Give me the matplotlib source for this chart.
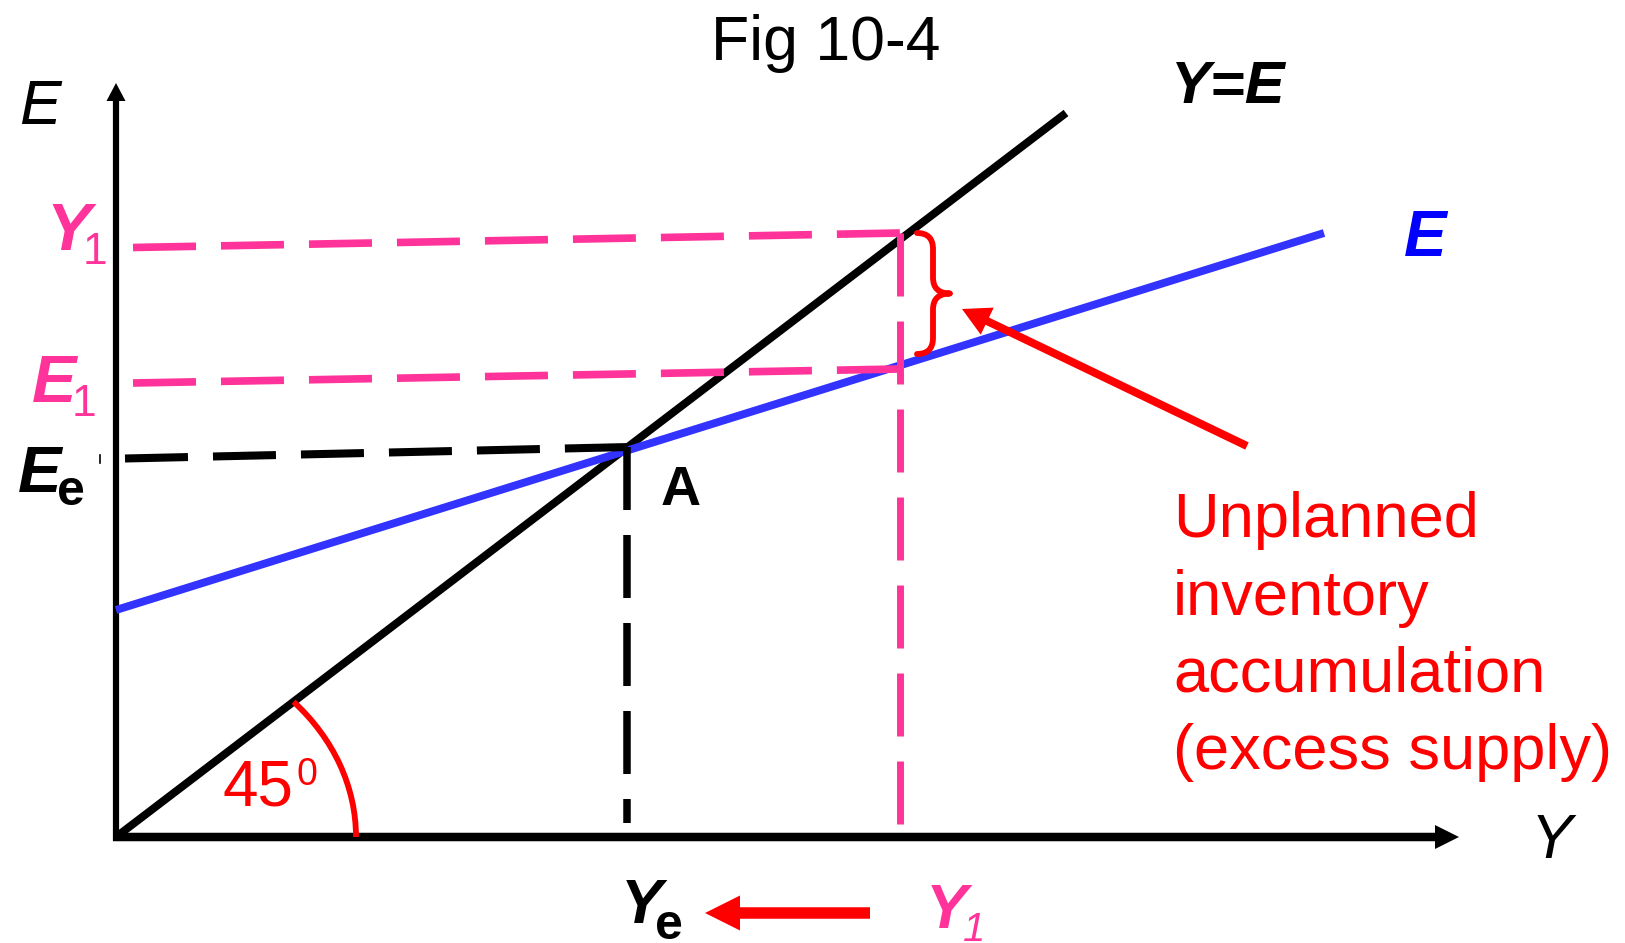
import matplotlib
matplotlib.use("Agg")
import matplotlib.pyplot as plt
from matplotlib.patches import FancyArrow, Arc, PathPatch
from matplotlib.path import Path

# values (1 unit = 100 px of the original slide)
y_axis_top = 7.54
x_axis_end = 13.43

# 45 degree line Y=E and planned expenditure line E
ye_line_x = [0.0, 9.50]
ye_line_y = [0.0, 7.24]
e_line_x = [0.0, 12.08]
e_line_y = [2.27, 6.04]

# equilibrium and the Y1 case
Y_e = 5.11
E_e = 3.90
Y_1 = 7.84
y1_level = [5.895, 6.04]
e1_level = [4.54, 4.68]
ee_level = [3.785, E_e]
pink_dash_x0 = 0.17
black_dash_x0 = 0.09
ye_drop_bottom = 0.14
y1_drop_bottom = 0.12

# brace showing the gap (unplanned inventory)
brace_top = 6.04
brace_bottom = 4.83

note_lines = ["Unplanned", "inventory", "accumulation", "(excess supply)"]
note_baselines = [3.00, 2.225, 1.45, 0.675]

PINK = "#FF3399"
BLUE_LINE = "#3333FF"
BLUE = "#0000FF"
RED = "#FF0000"
FONT = ["Liberation Sans", "DejaVu Sans"]


def dashes(lw, on_px=63, off_px=25):
    # dash pattern given in pixels, scaled by line width
    return (0, (on_px * 0.72 / lw, off_px * 0.72 / lw))


fig = plt.figure(figsize=(16.25, 9.43), dpi=100)
ax = fig.add_axes([0, 0, 1, 1])
ax.set_xlim(-1.16, 15.09)
ax.set_ylim(-1.06, 8.37)
ax.axis("off")

# axes with arrows
ax.add_patch(FancyArrow(0, -0.04, 0, y_axis_top + 0.04, width=0.062, head_width=0.19,
                        head_length=0.18, length_includes_head=True, color="black", lw=0))
ax.add_patch(FancyArrow(-0.03, 0, x_axis_end + 0.03, 0, width=0.085, head_width=0.24,
                        head_length=0.24, length_includes_head=True, color="black", lw=0))

# main lines
ax.plot(ye_line_x, ye_line_y, color="black", lw=5.7, solid_capstyle="butt", zorder=3)
ax.plot(e_line_x, e_line_y, color=BLUE_LINE, lw=5.7, solid_capstyle="butt", zorder=3)

# dashed guides
ax.plot([pink_dash_x0, Y_1], y1_level, color=PINK, lw=5.5, ls=dashes(5.5), zorder=4)
ax.plot([pink_dash_x0, Y_1], e1_level, color=PINK, lw=5.5, ls=dashes(5.5), zorder=4)
ax.plot([Y_1, Y_1], [y1_level[1], y1_drop_bottom], color=PINK, lw=5.0, ls=dashes(5.0), zorder=4)
ax.plot([black_dash_x0, Y_e + 0.03], ee_level, color="black", lw=5.8, ls=dashes(5.8), zorder=4)
ax.plot([Y_e, Y_e], [E_e, ye_drop_bottom], color="black", lw=5.4, ls=dashes(5.4), zorder=4)
ax.plot([-0.16, -0.16], [3.74, 3.82], color="black", lw=1.2)

# 45 degree arc
ax.add_patch(Arc((0, 0), 4.80, 4.02, theta1=0, theta2=37.3, color=RED, lw=4.2, zorder=5))
ax.text(1.42, 0.32, "45", ha="center", va="baseline", fontsize=46, color=RED, family=FONT)
ax.text(1.81, 0.52, "0", ha="left", va="baseline", fontsize=27, color=RED, family=FONT)

# brace
xe, xs, xt = 8.01, 8.17, 8.34
mid = (brace_top + brace_bottom) / 2
r = 0.16
verts = [(xe, brace_top), (xs, brace_top), (xs, brace_top - r), (xs, mid + r),
         (xs, mid), (xt, mid), (xs, mid), (xs, mid - r), (xs, brace_bottom + r),
         (xs, brace_bottom), (xe, brace_bottom)]
codes = [Path.MOVETO, Path.CURVE3, Path.CURVE3, Path.LINETO,
         Path.CURVE3, Path.CURVE3, Path.CURVE3, Path.CURVE3, Path.LINETO,
         Path.CURVE3, Path.CURVE3]
ax.add_patch(PathPatch(Path(verts, codes), fill=False, edgecolor=RED, lw=4.2,
                       capstyle="round", joinstyle="round", zorder=5))

# arrow pointing to the brace
ax.add_patch(FancyArrow(11.31, 3.91, 8.46 - 11.31, 5.28 - 3.91, width=0.08, head_width=0.30,
                        head_length=0.28, length_includes_head=True, color=RED, lw=0, zorder=5))
for txt, yb in zip(note_lines, note_baselines):
    ax.text(10.57, yb, txt, ha="left", va="baseline", fontsize=45.5, color=RED, family=FONT)

# arrow from Y1 back to Ye
ax.add_patch(FancyArrow(7.54, -0.76, 5.89 - 7.54, 0, width=0.115, head_width=0.35,
                        head_length=0.35, length_includes_head=True, color=RED, lw=0))

# labels
ax.text(7.10, 7.77, "Fig 10-4", ha="center", va="baseline", fontsize=45, family=FONT)
ax.text(-0.76, 7.13, "E", ha="center", va="baseline", fontsize=45, style="italic", family=FONT)
ax.text(14.35, -0.21, "Y", ha="center", va="baseline", fontsize=45, style="italic", family=FONT)
ax.text(11.12, 7.34, "Y=E", ha="center", va="baseline", fontsize=43, style="italic",
        weight="bold", family=FONT)
ax.text(13.09, 5.815, "E", ha="center", va="baseline", fontsize=46, style="italic",
        weight="bold", color=BLUE, family=FONT)
ax.text(5.65, 3.32, "A", ha="center", va="baseline", fontsize=40, weight="bold", family=FONT)

ax.text(-0.47, 5.87, "Y", ha="center", va="baseline", fontsize=48, style="italic",
        weight="bold", color=PINK, family=FONT)
ax.text(-0.33, 5.73, "1", ha="left", va="baseline", fontsize=32, color=PINK, family=FONT)
ax.text(-0.62, 4.35, "E", ha="center", va="baseline", fontsize=48, style="italic",
        weight="bold", color=PINK, family=FONT)
ax.text(-0.44, 4.21, "1", ha="left", va="baseline", fontsize=32, color=PINK, family=FONT)
ax.text(-0.76, 3.45, "E", ha="center", va="baseline", fontsize=47, style="italic",
        weight="bold", family=FONT)
ax.text(-0.59, 3.32, "e", ha="left", va="baseline", fontsize=36, weight="bold", family=FONT)

ax.text(5.26, -0.86, "Y", ha="center", va="baseline", fontsize=45, style="italic",
        weight="bold", family=FONT)
ax.text(5.39, -1.02, "e", ha="left", va="baseline", fontsize=36, weight="bold", family=FONT)
ax.text(8.31, -0.91, "Y", ha="center", va="baseline", fontsize=45, style="italic",
        weight="bold", color=PINK, family=FONT)
ax.text(8.47, -1.04, "1", ha="left", va="baseline", fontsize=29, style="italic",
        color=PINK, family=FONT)

fig.savefig("out.png", dpi=100)
